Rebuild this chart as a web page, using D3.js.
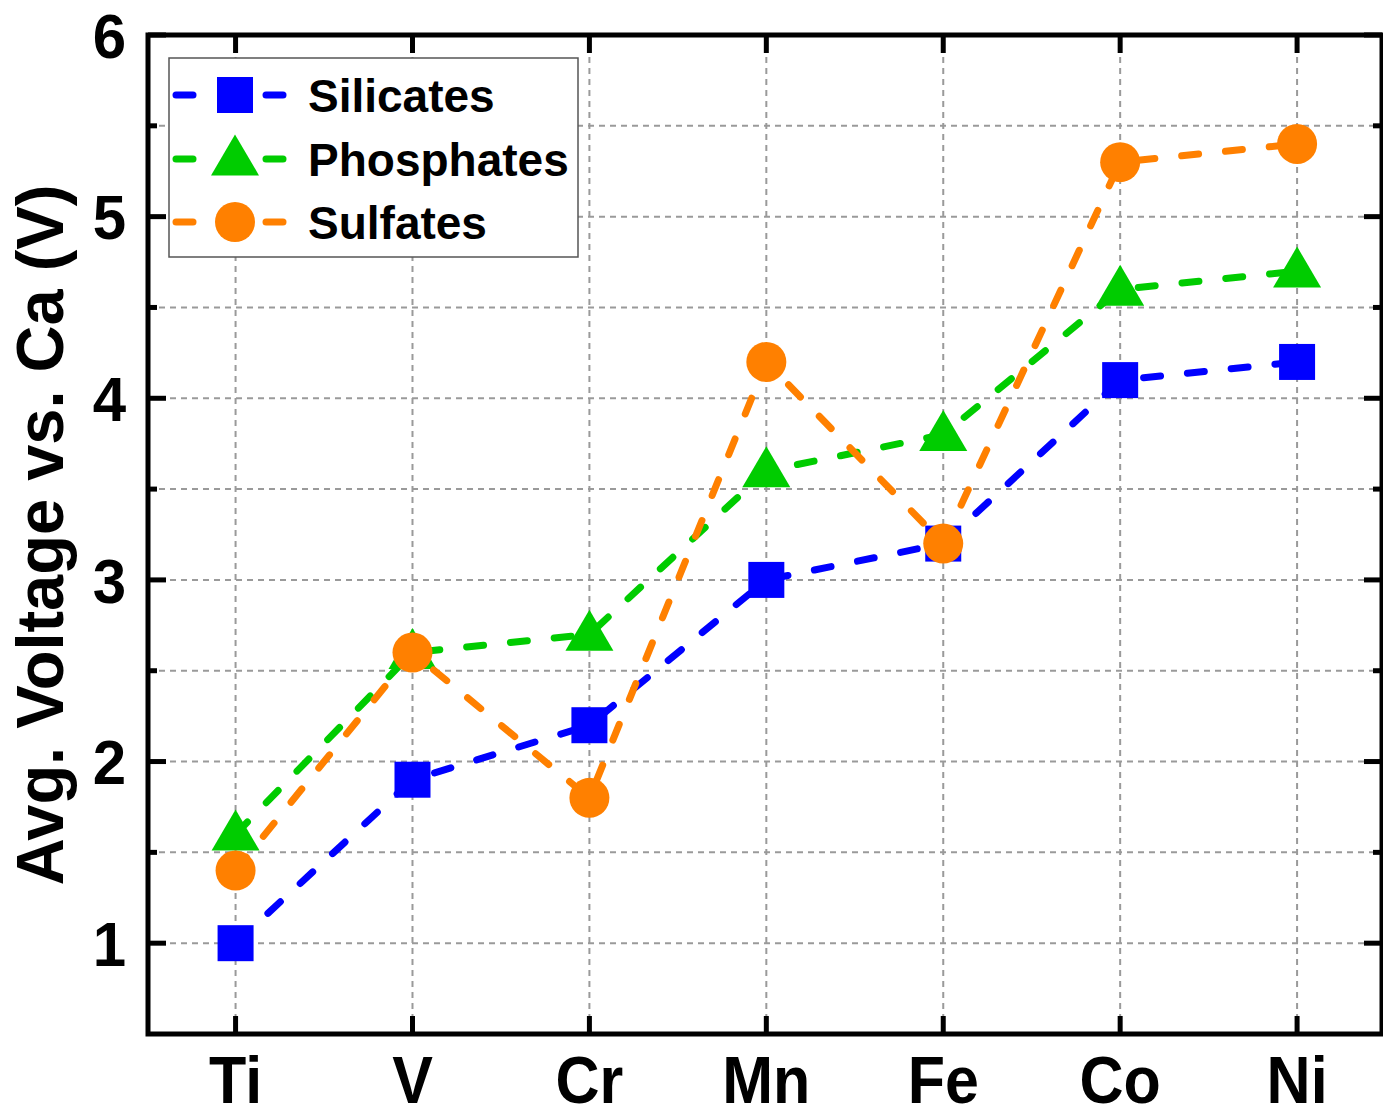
<!DOCTYPE html>
<html><head><meta charset="utf-8">
<script src="https://cdn.jsdelivr.net/npm/d3@7"></script>
<style>html,body{margin:0;padding:0;background:#fff;}svg{display:block;font-family:"Liberation Sans",Arial,sans-serif;}</style>
</head><body>
<svg id="chart" width="1383" height="1109"></svg>
<script>
const categories = ["Ti","V","Cr","Mn","Fe","Co","Ni"];
const silicates  = [1.0, 1.9, 2.2, 3.0, 3.2, 4.1, 4.2];
const phosphates = [1.6, 2.6, 2.7, 3.6, 3.8, 4.6, 4.7];
const sulfates   = [1.4, 2.6, 1.8, 4.2, 3.2, 5.3, 5.4];
const yTicks = [1, 2, 3, 4, 5, 6];
const yMinor = [1.5, 2.5, 3.5, 4.5, 5.5];
const seriesNames = ["Silicates","Phosphates","Sulfates"];

const series = [
  {name: seriesNames[0], values: silicates, color: "#0000ff", shape: "square"},
  {name: seriesNames[1], values: phosphates, color: "#00cc00", shape: "triangle"},
  {name: seriesNames[2], values: sulfates, color: "#ff8000", shape: "circle"}
];

const svg = d3.select("#chart");
const L = 148, R = 1382, T = 35, B = 1034;
const x = d3.scaleLinear().domain([-0.495, 6.48]).range([L, R]);
const y = d3.scaleLinear().domain([0.5, 6]).range([B, T]);

// grid
const grid = svg.append("g");
grid.selectAll("line.gy").data(yTicks.concat(yMinor).filter(v => v < 6)).join("line")
  .attr("x1", L).attr("x2", R).attr("y1", d => y(d)).attr("y2", d => y(d))
  .attr("stroke", "#9a9a9a").attr("stroke-width", 2).attr("stroke-dasharray", "6,5");
grid.selectAll("line.gx").data(categories).join("line")
  .attr("x1", (d,i) => x(i)).attr("x2", (d,i) => x(i)).attr("y1", T).attr("y2", B)
  .attr("stroke", "#9a9a9a").attr("stroke-width", 2).attr("stroke-dasharray", "6,5");

function marker(g, shape, color, cx, cy) {
  if (shape === "square") {
    g.append("rect").attr("x", cx - 18).attr("y", cy - 18).attr("width", 36).attr("height", 36).attr("fill", color);
  } else if (shape === "triangle") {
    const w = 48, h = 41;
    g.append("path").attr("d", `M${cx},${cy - h*0.6}L${cx + w/2},${cy + h*0.4}L${cx - w/2},${cy + h*0.4}Z`).attr("fill", color);
  } else {
    g.append("circle").attr("cx", cx).attr("cy", cy).attr("r", 20).attr("fill", color);
  }
}

const line = d3.line().x((d,i) => x(i)).y(d => y(d));
series.forEach(s => {
  const g = svg.append("g");
  g.append("path").datum(s.values).attr("d", line)
    .attr("fill", "none").attr("stroke", s.color).attr("stroke-width", 7)
    .attr("stroke-linecap", "round").attr("stroke-dasharray", "17,27");
  s.values.forEach((v, i) => marker(g, s.shape, s.color, x(i), y(v)));
});

// frame
svg.append("rect").attr("x", L).attr("y", T).attr("width", R - L).attr("height", B - T)
  .attr("fill", "none").attr("stroke", "#000").attr("stroke-width", 5);

// ticks
const tk = svg.append("g").attr("stroke", "#000").attr("stroke-width", 5);
yTicks.forEach(v => {
  tk.append("line").attr("x1", L).attr("x2", L + 18).attr("y1", y(v)).attr("y2", y(v));
  tk.append("line").attr("x1", R).attr("x2", R - 18).attr("y1", y(v)).attr("y2", y(v));
});
yMinor.forEach(v => {
  tk.append("line").attr("x1", L).attr("x2", L + 9).attr("y1", y(v)).attr("y2", y(v));
  tk.append("line").attr("x1", R).attr("x2", R - 9).attr("y1", y(v)).attr("y2", y(v));
});
categories.forEach((c, i) => {
  tk.append("line").attr("x1", x(i)).attr("x2", x(i)).attr("y1", B).attr("y2", B - 18);
  tk.append("line").attr("x1", x(i)).attr("x2", x(i)).attr("y1", T).attr("y2", T + 18);
});

// tick labels
svg.selectAll("text.yt").data(yTicks).join("text")
  .attr("transform", d => `translate(126,${y(d)}) scale(1,1.05)`)
  .attr("dy", "0.36em")
  .attr("text-anchor", "end").attr("font-size", 60).attr("font-weight", "bold").text(d => d);
svg.selectAll("text.xt").data(categories).join("text")
  .attr("transform", (d,i) => `translate(${x(i)},1103) scale(1,1.08)`)
  .attr("text-anchor", "middle").attr("font-size", 61).attr("font-weight", "bold").text(d => d);

// y label
svg.append("text").attr("transform", "translate(63,535) rotate(-90) scale(1,1.03)")
  .attr("text-anchor", "middle").attr("font-size", 65).attr("font-weight", "bold")
  .text("Avg. Voltage vs. Ca (V)");

// legend
const lg = svg.append("g");
lg.append("rect").attr("x", 169).attr("y", 58).attr("width", 409).attr("height", 199)
  .attr("fill", "#fff").attr("stroke", "#555").attr("stroke-width", 1.5);
const legY = [95, 159, 222];
series.forEach((s, k) => {
  const yy = legY[k];
  [[176, 193], [266, 283]].forEach(seg => {
    lg.append("line").attr("x1", seg[0]).attr("x2", seg[1]).attr("y1", yy).attr("y2", yy)
      .attr("stroke", s.color).attr("stroke-width", 7).attr("stroke-linecap", "round");
  });
  marker(lg, s.shape, s.color, 235, yy);
  lg.append("text").attr("x", 308).attr("y", yy).attr("dy", "0.36em")
    .attr("font-size", 46).attr("font-weight", "bold").text(s.name);
});
</script>
</body></html>
